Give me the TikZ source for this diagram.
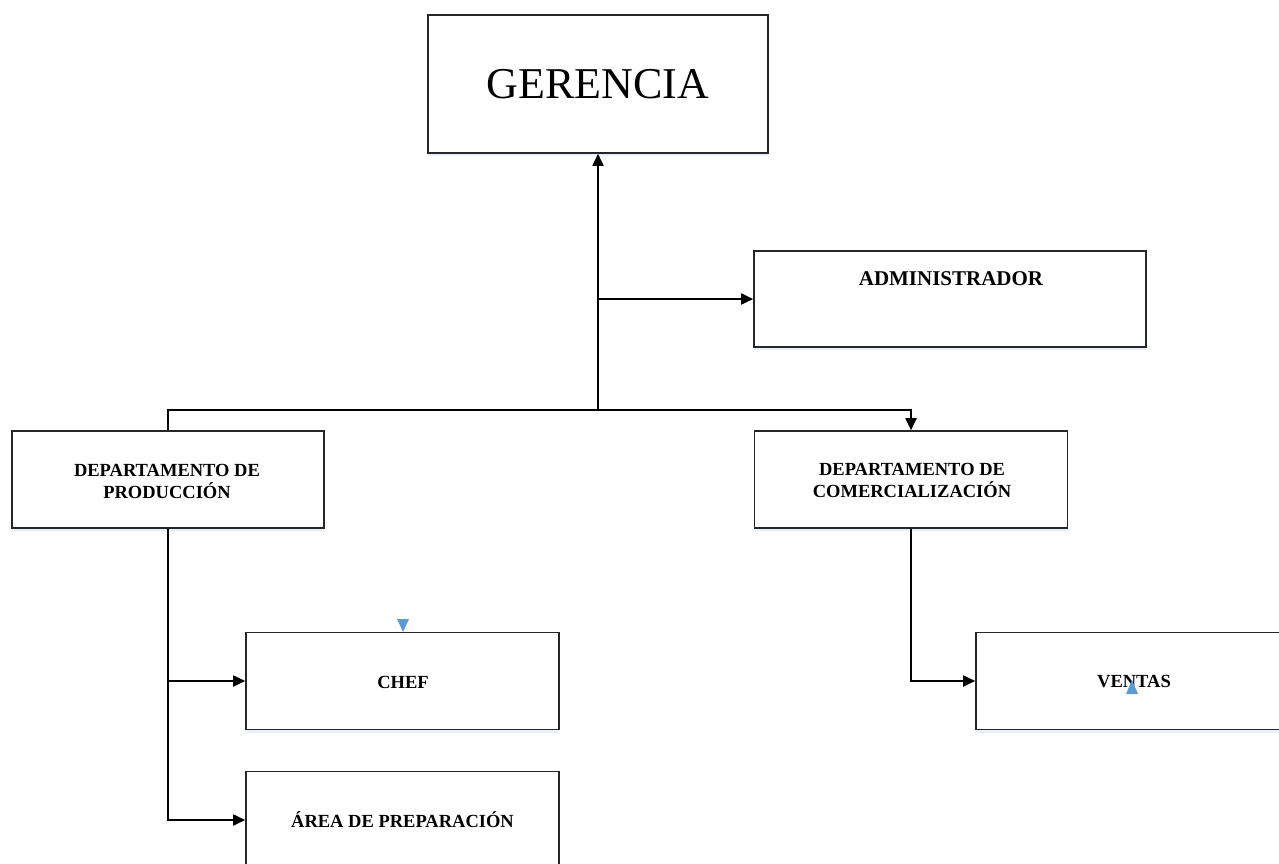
\documentclass[tikz,border=0pt]{standalone}
\usepackage{fontspec}
\setmainfont{Liberation Serif}
\usetikzlibrary{arrows.meta,shadows}
\definecolor{mkblue}{RGB}{91,155,213}
\definecolor{shblue}{RGB}{190,210,235}
\tikzset{
  box/.style={draw=black!85, line width=1.6pt, fill=white, inner sep=0pt,
    minimum width=313pt, minimum height=97pt,
    drop shadow={shadow xshift=0pt, shadow yshift=-3pt, fill=shblue, opacity=0.35}},
  lbl/.style={font=\bfseries\fontsize{18.5}{22}\selectfont, align=center, inner sep=0pt, anchor=base},
  conn/.style={line width=1.8pt, black},
  arr/.style={conn, -{Triangle[length=12pt,width=11pt]}},
  mark blue/.style={fill=mkblue, draw=none}
}
\begin{document}
\begin{tikzpicture}[x=1pt,y=-1pt]
\path[use as bounding box] (0,0) rectangle (1279,864);
\clip (0,0) rectangle (1279,864);
% boxes
\node[box, minimum width=340pt, minimum height=138pt] (ger) at (598,84) {};
\node[box, minimum width=392pt, minimum height=96pt] (adm) at (950,299) {};
\node[box, minimum width=312pt, minimum height=97pt] (prod) at (168,479.5) {};
\node[box, minimum width=313pt, minimum height=97pt] (com) at (911,479.5) {};
\node[box] (chef) at (402.5,681) {};
\node[box] (area) at (402.5,820) {};
\node[box, minimum width=316pt] (ven) at (1134,681) {};
% texts
\node[inner sep=0pt, anchor=base, font=\fontsize{44}{50}\selectfont] (tger) at (598,99) {GERENCIA};
\node[lbl, font=\bfseries\fontsize{21}{24}\selectfont] (tadm) at (951,285) {ADMINISTRADOR};
\node[lbl] (tprod) at (167,498) {DEPARTAMENTO DE\\PRODUCCIÓN};
\node[lbl] (tcom) at (912,497) {DEPARTAMENTO DE\\COMERCIALIZACIÓN};
\node[lbl] (tchef) at (403,688) {CHEF};
\node[lbl] (tarea) at (402.5,827) {ÁREA DE PREPARACIÓN};
\node[lbl] (tven) at (1134,687) {VENTAS};
% junctions
\coordinate (j1) at (598,410);
\coordinate (ja) at (598,299);
\coordinate (jr) at (911,410);
% connectors
\draw[arr] (j1) -- (ger.south);
\draw[arr] (ja) -- (ja -| adm.west);
\draw[arr] (prod.north) |- (jr) -- (com.north);
\draw[arr] (prod.south) |- (area.west);
\draw[arr] (prod.south |- chef.west) -- (chef.west);
\draw[arr] (com.south) |- (ven.west);
% blue markers
\fill[mark blue] (397,619) -- (409,619) -- (403,632) -- cycle;
\fill[mark blue] (1126,694) -- (1138,694) -- (1132,680) -- cycle;
\end{tikzpicture}
\end{document}
